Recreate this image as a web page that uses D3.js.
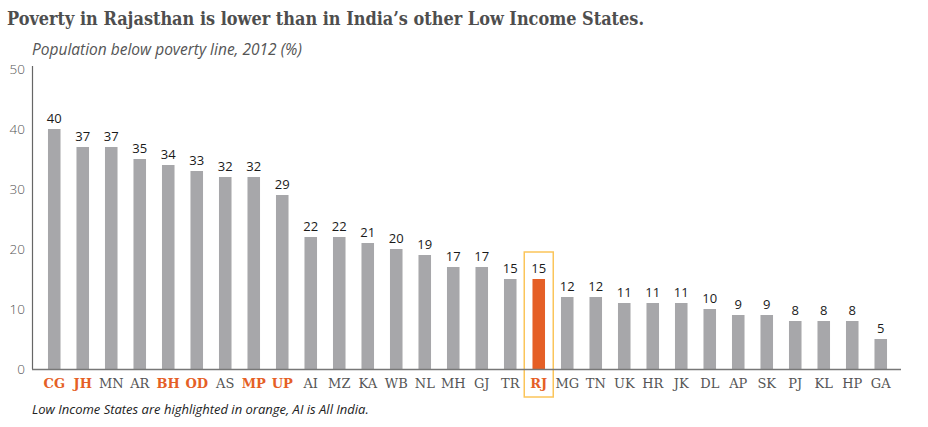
<!DOCTYPE html>
<html><head><meta charset="utf-8">
<script src="https://cdn.jsdelivr.net/npm/d3@7"></script>
<style>
html,body{margin:0;padding:0;background:#fff;}
svg{display:block;}
</style></head>
<body>
<svg id="chart" width="928" height="427"></svg>
<script>
const categories = ["CG","JH","MN","AR","BH","OD","AS","MP","UP","AI","MZ","KA","WB","NL","MH","GJ","TR","RJ","MG","TN","UK","HR","JK","DL","AP","SK","PJ","KL","HP","GA"];
const values = [40,37,37,35,34,33,32,32,29,22,22,21,20,19,17,17,15,15,12,12,11,11,11,10,9,9,8,8,8,5];
const lowIncome = ["CG","JH","BH","OD","MP","UP","RJ"];
const highlighted = ["RJ"];
const yTicks = [0,10,20,30,40,50];
const title = "Poverty in Rajasthan is lower than in India\u2019s other Low Income States.";
const subtitle = "Population below poverty line, 2012 (%)";
const footnote = "Low Income States are highlighted in orange, AI is All India.";

const svg = d3.select("#chart");
const grey = "#a7a7aa", orange = "#e55f26", textGrey = "#555";
const x = d3.scaleBand().domain(categories).range([40, 895]).paddingInner(0.56).paddingOuter(0.28);
const y = d3.scaleLinear().domain([0, 50]).range([369, 69]);

svg.append("text").attr("x", 7).attr("y", 25).text(title)
  .attr("font-family", "DejaVu Serif").attr("font-weight", "bold").attr("font-size", 19)
  .attr("fill", "#4e4e4e").attr("textLength", 637).attr("lengthAdjust", "spacingAndGlyphs");
svg.append("text").attr("x", 32).attr("y", 55).text(subtitle)
  .attr("font-family", "Open Sans").attr("font-style", "italic").attr("font-size", 15.5).attr("fill", textGrey);
svg.append("text").attr("x", 32).attr("y", 414).text(footnote)
  .attr("font-family", "Open Sans").attr("font-style", "italic").attr("font-size", 13).attr("fill", "#222");

// highlight box
const hb = svg.append("g");
highlighted.forEach(c => {
  const cx = x(c) + x.bandwidth() / 2;
  hb.append("rect").attr("x", cx - 14.5).attr("y", 252).attr("width", 29).attr("height", 145)
    .attr("fill", "none").attr("stroke", "#fbc55a").attr("stroke-width", 1.5);
});

// y axis
const ya = svg.append("g").attr("transform", "translate(32,0)")
  .call(d3.axisLeft(y).tickValues(yTicks).tickSize(0).tickPadding(7));
ya.select(".domain").attr("stroke", "#666").attr("stroke-width", 1.2).attr("d", "M0.5," + (y(50) - 3) + "V" + y(0));
ya.selectAll("text").attr("font-family", "Open Sans").attr("font-size", 13.5).attr("fill", textGrey).attr("font-weight", 300);

// bars
svg.append("g").selectAll("rect").data(categories).join("rect")
  .attr("x", d => x(d)).attr("width", x.bandwidth())
  .attr("y", (d, i) => y(values[i])).attr("height", (d, i) => y(0) - y(values[i]))
  .attr("fill", d => highlighted.includes(d) ? orange : grey);

// value labels
svg.append("g").selectAll("text").data(categories).join("text")
  .attr("x", d => x(d) + x.bandwidth() / 2).attr("y", (d, i) => y(values[i]) - 6)
  .attr("text-anchor", "middle").attr("font-family", "Open Sans").attr("font-size", 13)
  .attr("fill", "#1a1a1a").text((d, i) => values[i]);

// x axis
const xa = svg.append("g").attr("transform", "translate(0," + y(0) + ")")
  .call(d3.axisBottom(x).tickSize(0).tickPadding(10));
xa.select(".domain").attr("stroke", "#777").attr("stroke-width", 1.5).attr("d", "M32,0.5H901");
xa.selectAll("text").attr("font-family", "DejaVu Serif").attr("font-size", 13)
  .attr("fill", d => lowIncome.includes(d) ? orange : textGrey)
  .attr("font-weight", d => lowIncome.includes(d) ? "bold" : "normal");
</script>
</body></html>
